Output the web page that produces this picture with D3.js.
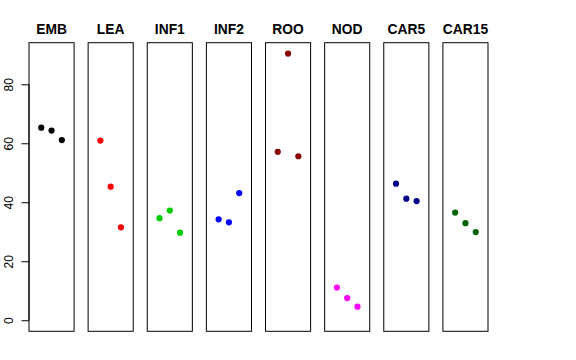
<!DOCTYPE html>
<html><head><meta charset="utf-8">
<script src="https://cdn.jsdelivr.net/npm/d3@7"></script>
<style>body{margin:0;background:#fff}svg{display:block}</style>
</head><body>
<script>
const categories = ["EMB","LEA","INF1","INF2","ROO","NOD","CAR5","CAR15"];
const colors = ["#000000","#FF0000","#00CD00","#0000FF","#8B0000","#FF00FF","#00008B","#006400"];
const rep1 = [65.3, 60.9, 34.6, 34.2, 57.1, 11.1, 46.3, 36.5];
const rep2 = [64.3, 45.3, 37.2, 33.2, 90.4, 7.5, 41.2, 32.9];
const rep3 = [61.1, 31.5, 29.7, 43.1, 55.6, 4.6, 40.4, 29.9];
const yTicks = [0, 20, 40, 60, 80];

(function () {
const W = 576, H = 360;
const svg = d3.select("body").append("svg").attr("width", W).attr("height", H);
const plotTop = 42.7, plotBottom = 331.3;
const y = d3.scaleLinear().domain([-3.75, 94.1]).range([plotBottom, plotTop]);
const panelX = d3.scaleBand().domain(categories).range([29, 488]).paddingInner(14 / 59).paddingOuter(0);
const inner = d3.scalePoint().domain([0, 1, 2]).range([-10.3, 10.3]);

const reps = [rep1, rep2, rep3];
categories.forEach((c, i) => {
  const x0 = panelX(c), bw = panelX.bandwidth();
  const g = svg.append("g");
  g.append("rect").attr("x", x0).attr("y", plotTop).attr("width", bw).attr("height", plotBottom - plotTop)
    .attr("fill", "none").attr("stroke", "#000").attr("stroke-width", 1);
  g.append("text").attr("x", x0 + bw / 2).attr("y", 34.2).attr("text-anchor", "middle")
    .attr("font-family", "Liberation Sans, Arial, sans-serif").attr("font-weight", "bold")
    .attr("font-size", 13.8).text(c);
  reps.forEach((r, j) => {
    g.append("circle").attr("cx", x0 + bw / 2 + inner(j)).attr("cy", y(r[i])).attr("r", 3.1)
      .attr("fill", colors[i]);
  });
});

const axis = d3.axisLeft(y).tickValues(yTicks).tickSize(7.5).tickSizeOuter(0);
const ag = svg.append("g").attr("transform", "translate(29,0)").call(axis);
ag.select(".domain").attr("d", `M0,${y(0)}V${y(80)}`).attr("stroke", "#000");
ag.selectAll(".tick line").attr("stroke", "#000");
ag.selectAll(".tick text")
  .attr("font-family", "Liberation Sans, Arial, sans-serif").attr("font-size", 12).attr("fill", "#000")
  .attr("text-anchor", "middle").attr("x", null).attr("dy", null)
  .attr("transform", "translate(-16.5,0) rotate(-90)").attr("y", 0);
})();
</script>
</body></html>
